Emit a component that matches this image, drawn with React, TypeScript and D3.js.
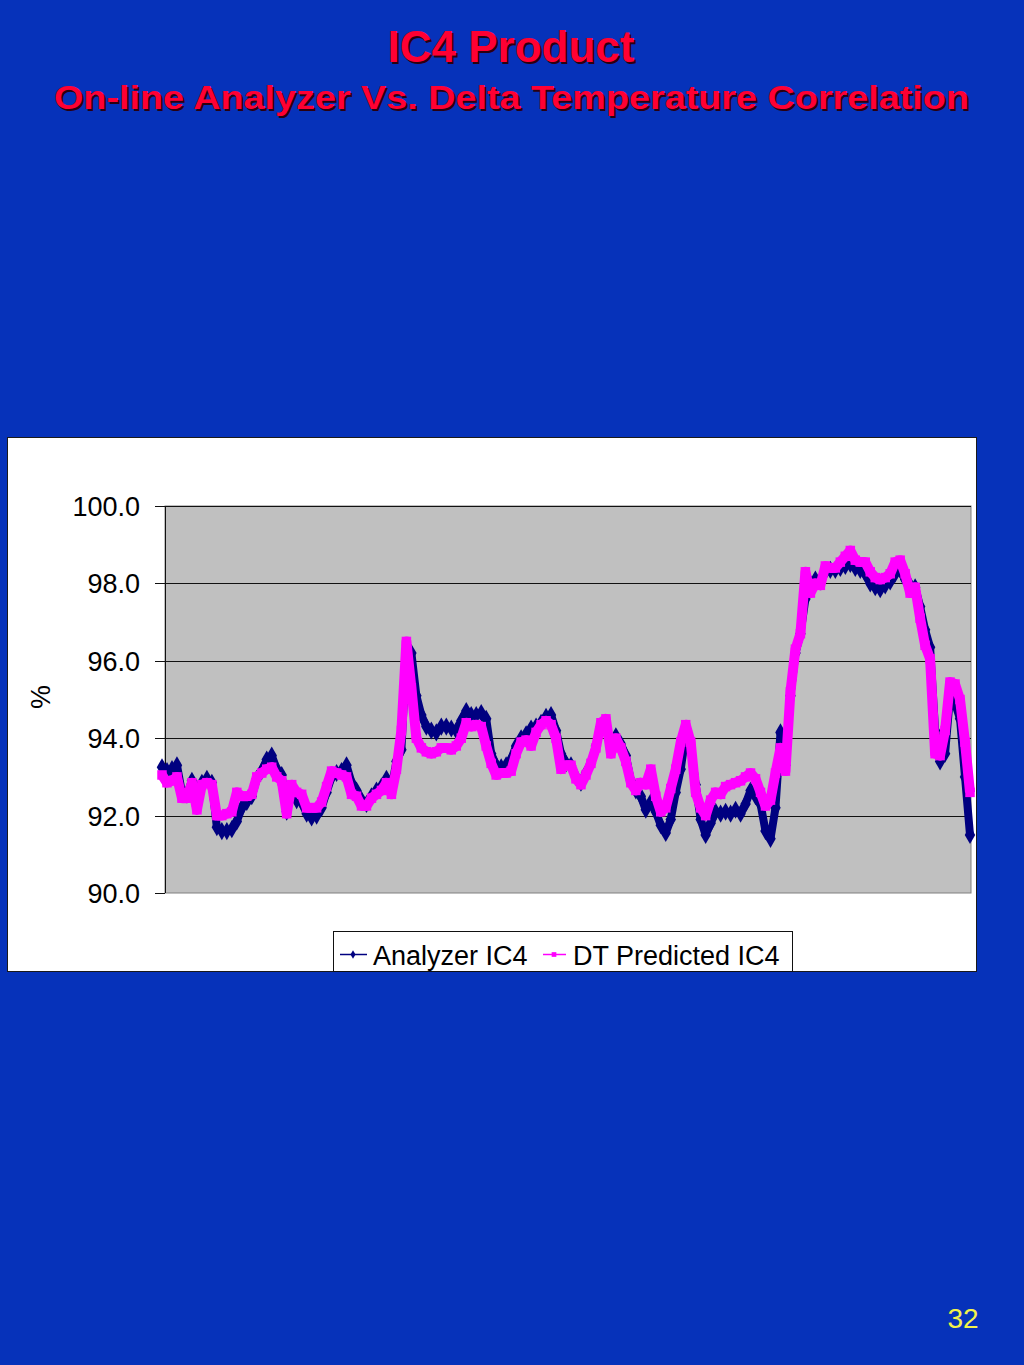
import React from "react";
import * as d3 from "d3";

const TITLE = "IC4 Product";
const SUBTITLE = "On-line Analyzer Vs. Delta Temperature Correlation";
const SERIES_NAMES = ["Analyzer IC4", "DT Predicted IC4"];
const Y_TICKS = [90, 92, 94, 96, 98, 100];
const Y_LABEL = "%";
const PAGE_NUMBER = "32";

const ANALYZER_IC4 = [
  93.25, 93.15, 93.2, 93.3, 92.6, 92.55, 92.9, 92.25, 92.85, 92.95,
  92.85, 91.7, 91.6, 91.6, 91.65, 91.85, 92.2, 92.35, 92.5, 92.95,
  93.15, 93.45, 93.55, 93.2, 93.05, 92.1, 92.6, 92.4, 92.35, 92.05,
  91.95, 92.0, 92.2, 92.6, 93.0, 93.1, 93.15, 93.3, 92.85, 92.65,
  92.4, 92.3, 92.5, 92.65, 92.75, 92.95, 92.7, 93.4, 93.7, 96.3,
  96.2, 95.1, 94.6, 94.3, 94.2, 94.15, 94.3, 94.3, 94.25, 94.2,
  94.45, 94.7, 94.6, 94.6, 94.65, 94.5, 93.6, 93.3, 93.25, 93.3,
  93.45, 93.8, 94.0, 94.1, 94.25, 94.3, 94.4, 94.55, 94.6, 94.2,
  93.6, 93.35, 93.3, 93.0, 92.85, 93.1, 93.35, 93.8, 94.3, 94.3,
  93.9, 94.05, 93.85, 93.55, 92.9, 92.65, 92.5, 92.15, 92.35, 92.1,
  91.75, 91.55, 91.9, 92.6, 93.2, 94.1, 93.8, 92.8, 91.9, 91.5,
  91.8, 92.1, 92.05, 92.1, 92.05, 92.15, 92.05, 92.3, 92.65, 92.5,
  92.3, 91.6, 91.4, 92.2, 94.15, 93.3, 95.1, 96.2, 96.7, 97.6,
  98.0, 98.1, 98.05, 98.3, 98.35, 98.35, 98.4, 98.45, 98.5, 98.4,
  98.35, 98.25, 98.0, 97.9, 97.85, 97.95, 98.05, 98.25, 98.35, 98.1,
  97.95, 97.9, 97.4, 96.8, 96.35, 94.2, 93.4, 93.6, 95.1, 94.9,
  94.5, 93.0, 91.5,
];

const DT_PREDICTED_IC4 = [
  93.05, 92.85, 92.9, 93.0, 92.45, 92.45, 92.85, 92.15, 92.8, 92.85,
  92.8, 92.0, 92.0, 92.05, 92.1, 92.6, 92.5, 92.5, 92.55, 93.0,
  93.1, 93.2, 93.25, 93.0, 92.9, 92.05, 92.8, 92.6, 92.55, 92.2,
  92.2, 92.2, 92.35, 92.75, 93.15, 93.1, 93.05, 93.0, 92.55, 92.5,
  92.25, 92.25, 92.45, 92.55, 92.65, 92.85, 92.55, 93.2, 94.2, 96.5,
  95.3, 94.0, 93.75, 93.65, 93.6, 93.65, 93.75, 93.75, 93.7, 93.8,
  94.0, 94.4, 94.3, 94.35, 94.3, 93.8, 93.35, 93.05, 93.1, 93.1,
  93.15, 93.6, 93.9, 93.95, 93.8, 94.15, 94.35, 94.45, 94.35, 94.0,
  93.2, 93.3, 93.3, 92.95, 92.8, 93.05, 93.35, 93.75, 94.4, 94.5,
  93.6, 94.0, 93.75, 93.4, 92.85, 92.65, 92.85, 92.8, 93.2, 92.5,
  92.1, 92.2, 92.7, 93.2, 93.9, 94.35, 93.9, 92.6, 92.2, 92.0,
  92.4, 92.6, 92.55, 92.75, 92.8, 92.85, 92.9, 93.0, 93.1, 92.95,
  92.6, 92.25, 92.4, 93.1, 93.75, 93.15, 95.2, 96.3, 96.7, 98.3,
  97.75, 98.0, 97.95, 98.45, 98.4, 98.4, 98.55, 98.7, 98.85, 98.6,
  98.55, 98.55, 98.3, 98.15, 98.1, 98.15, 98.25, 98.55, 98.6, 98.25,
  97.75, 97.9, 97.1, 96.4, 96.05, 93.6, 93.55, 94.2, 95.45, 95.4,
  95.0, 93.9, 92.6,
];

const COLORS = {
  background: "#0632BA",
  title: "#FF0033",
  shadow: "#2a0010",
  analyzer: "#000080",
  predicted: "#FF00FF",
  plot: "#C0C0C0",
  page: "#F2F24A",
};

export default function App() {
  const W = 1024;
  const H = 1365;
  const plot = { left: 165, right: 971, top: 506, bottom: 893 };
  const n = ANALYZER_IC4.length;
  const x = d3.scaleLinear().domain([0, n - 1]).range([162, 970]);
  const y = d3.scaleLinear().domain([90, 100]).range([plot.bottom, plot.top]);
  const line = d3
    .line<number>()
    .x((_, i) => x(i))
    .y((d) => y(d));
  const diamond = d3.symbol().type(d3.symbolDiamond).size(95)();
  const square = d3.symbol().type(d3.symbolSquare).size(90)();
  const legendDiamond = d3.symbol().type(d3.symbolDiamond).size(22)();
  const legendSquare = d3.symbol().type(d3.symbolSquare).size(22)();
  const font = "'Liberation Sans', Arial, sans-serif";

  return (
    <svg
      width={W}
      height={H}
      style={{ position: "absolute", left: 0, top: 0, display: "block" }}
      fontFamily={font}
    >
      <rect x={0} y={0} width={W} height={H} fill={COLORS.background} />

      {/* Title */}
      <g fontWeight="bold" textAnchor="middle">
        <text x={513} y={64} fontSize={44} fill={COLORS.shadow}>{TITLE}</text>
        <text x={511} y={62} fontSize={44} fill={COLORS.title}>{TITLE}</text>
        <text x={513.5} y={111} fontSize={34} fill={COLORS.shadow} textLength={915} lengthAdjust="spacingAndGlyphs">{SUBTITLE}</text>
        <text x={511.5} y={109} fontSize={34} fill={COLORS.title} textLength={915} lengthAdjust="spacingAndGlyphs">{SUBTITLE}</text>
      </g>

      {/* Chart box */}
      <rect x={7.5} y={437.5} width={969} height={534} fill="#fff" stroke="#1a1a1a" strokeWidth={1} />

      {/* Plot area */}
      <rect x={plot.left} y={plot.top} width={plot.right - plot.left} height={plot.bottom - plot.top} fill={COLORS.plot} stroke="#808080" strokeWidth={1} />

      {/* Gridlines + ticks */}
      {Y_TICKS.map((t) => (
        <g key={t}>
          {t > 90 && (
            <line x1={plot.left} x2={plot.right} y1={Math.round(y(t)) + 0.5} y2={Math.round(y(t)) + 0.5} stroke="#111" strokeWidth={1} />
          )}
          <line x1={155} x2={plot.left} y1={Math.round(y(t)) + 0.5} y2={Math.round(y(t)) + 0.5} stroke="#111" strokeWidth={1} />
          <text x={140} y={y(t) + 10} fontSize={27} textAnchor="end" fill="#000">
            {t.toFixed(1)}
          </text>
        </g>
      ))}
      <line x1={plot.left + 0.5} x2={plot.left + 0.5} y1={plot.top} y2={plot.bottom} stroke="#111" strokeWidth={1} />

      <text transform="translate(50,697) rotate(-90)" fontSize={27} textAnchor="middle" fill="#000">{Y_LABEL}</text>

      {/* Analyzer series */}
      <path d={line(ANALYZER_IC4) || ""} fill="none" stroke={COLORS.analyzer} strokeWidth={8} strokeLinejoin="round" />
      {ANALYZER_IC4.map((v, i) => (
        <path key={"a" + i} d={diamond || ""} transform={`translate(${x(i)},${y(v)})`} fill={COLORS.analyzer} />
      ))}

      {/* DT predicted series */}
      <path d={line(DT_PREDICTED_IC4) || ""} fill="none" stroke={COLORS.predicted} strokeWidth={10} strokeLinejoin="round" />
      {DT_PREDICTED_IC4.map((v, i) => (
        <path key={"p" + i} d={square || ""} transform={`translate(${x(i)},${y(v)})`} fill={COLORS.predicted} />
      ))}

      {/* Legend */}
      <rect x={333.5} y={931.5} width={459} height={40} fill="#fff" stroke="#111" strokeWidth={1} />
      <line x1={340} x2={367} y1={954.5} y2={954.5} stroke={COLORS.analyzer} strokeWidth={1.5} />
      <path d={legendDiamond || ""} transform="translate(353,954.5)" fill={COLORS.analyzer} />
      <text x={373} y={965} fontSize={27} fill="#000">{SERIES_NAMES[0]}</text>
      <line x1={543} x2={566} y1={954.5} y2={954.5} stroke={COLORS.predicted} strokeWidth={1.5} />
      <path d={legendSquare || ""} transform="translate(554,954.5)" fill={COLORS.predicted} />
      <text x={573} y={965} fontSize={27} fill="#000">{SERIES_NAMES[1]}</text>

      {/* Page number */}
      <text x={963} y={1328} fontSize={28} textAnchor="middle" fill={COLORS.page}>{PAGE_NUMBER}</text>
    </svg>
  );
}
